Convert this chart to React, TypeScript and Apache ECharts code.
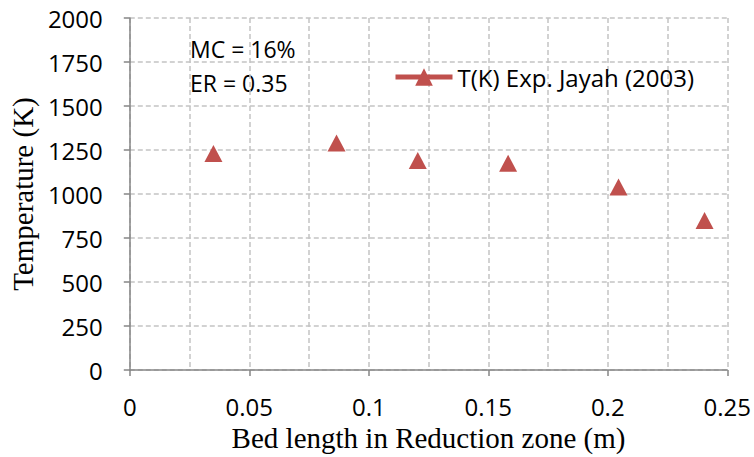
import React, { useEffect, useRef } from "react";
import * as echarts from "echarts";

const bedLength = [0.035, 0.0865, 0.1205, 0.1583, 0.2045, 0.2405];
const temperature = [1230, 1290, 1190, 1175, 1040, 850];
const seriesName = "T(K) Exp. Jayah (2003)";
const annotations = ["MC = 16%", "ER = 0.35"];

const SANS = "'Open Sans', 'Liberation Sans', sans-serif";
const SERIF = "'Liberation Serif', 'DejaVu Serif', serif";
const RED = "#C0504D";

export default function App() {
  const ref = useRef<HTMLDivElement>(null);
  useEffect(() => {
    document.body.style.margin = "0";
    if (!ref.current) return;
    const chart = echarts.init(ref.current, undefined, { renderer: "svg" });
    const data = bedLength.map((x, i) => [x, temperature[i]]);
    chart.setOption({
      animation: false,
      backgroundColor: "#ffffff",
      grid: { left: 125, right: 26, top: 18, bottom: 79, containLabel: false },
      legend: {
        show: true,
        left: 393,
        top: 65,
        padding: 0,
        itemWidth: 57,
        itemHeight: 22,
        data: [seriesName],
        textStyle: { fontFamily: SANS, fontSize: 24, color: "#000" },
        lineStyle: { width: 5, color: RED, opacity: 1 },
      },
      xAxis: {
        type: "value",
        min: 0,
        max: 0.25,
        interval: 0.05,
        name: "Bed length in Reduction zone (m)",
        nameLocation: "middle",
        nameGap: 46,
        nameTextStyle: { fontFamily: SERIF, fontSize: 29, color: "#000" },
        axisLine: { show: true, lineStyle: { color: "#868686", width: 1.5 } },
        axisTick: { show: true, inside: false, length: 6, lineStyle: { color: "#868686", width: 1.5 } },
        axisLabel: {
          margin: 24,
          fontFamily: SANS,
          fontSize: 24,
          color: "#000",
          formatter: (v: number) => String(parseFloat(v.toFixed(3))),
        },
        splitLine: { show: true, lineStyle: { color: "#c4c4c4", type: [5, 3], width: 1.5 } },
        minorTick: { show: false, splitNumber: 2 },
        minorSplitLine: { show: true, lineStyle: { color: "#c4c4c4", type: [5, 3], width: 1.5 } },
      },
      yAxis: {
        type: "value",
        min: 0,
        max: 2000,
        interval: 250,
        name: "Temperature (K)",
        nameLocation: "middle",
        nameGap: 88,
        nameTextStyle: { fontFamily: SERIF, fontSize: 29, color: "#000" },
        axisLine: { show: true, lineStyle: { color: "#868686", width: 1.5 } },
        axisTick: { show: true, inside: false, length: 6, lineStyle: { color: "#868686", width: 1.5 } },
        axisLabel: {
          margin: 27,
          fontFamily: SANS,
          fontSize: 24,
          color: "#000",
          formatter: (v: number) => String(v),
        },
        splitLine: { show: true, lineStyle: { color: "#c4c4c4", type: [5, 3], width: 1.5 } },
      },
      graphic: [
        {
          type: "text",
          left: 190,
          top: 32,
          style: {
            text: annotations.join("\n"),
            fontFamily: SANS,
            fontSize: 23,
            lineHeight: 34,
            fill: "#000",
          },
        },
      ],
      series: [
        {
          name: seriesName,
          type: "line",
          data,
          symbol: "triangle",
          symbolSize: [18, 17],
          itemStyle: { color: RED },
          lineStyle: { width: 0, opacity: 0, color: RED },
          z: 5,
        },
      ],
    });
    return () => chart.dispose();
  }, []);
  return <div ref={ref} style={{ width: 754, height: 457 }} />;
}
